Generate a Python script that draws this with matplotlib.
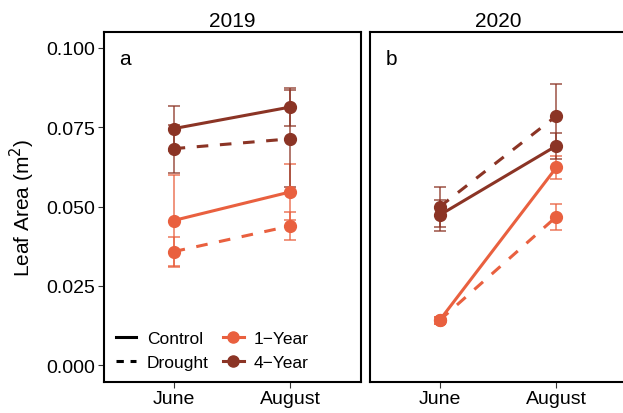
import numpy as np
import matplotlib.pyplot as plt
from matplotlib.lines import Line2D

plt.rcParams['font.family'] = ['Liberation Sans', 'DejaVu Sans']

months = ["June", "August"]
years = ["2019", "2020"]
panel_tags = ["a", "b"]

# mean leaf area and standard error, per year / stand age / treatment
ctrl_1yr = {"2019": [0.0456, 0.0546], "2020": [0.0142, 0.0623]}
ctrl_1yr_se = {"2019": [0.0144, 0.0087], "2020": [0.0010, 0.0036]}
drt_1yr = {"2019": [0.0358, 0.0439], "2020": [0.0142, 0.0468]}
drt_1yr_se = {"2019": [0.0047, 0.0043], "2020": [0.0010, 0.0041]}
ctrl_4yr = {"2019": [0.0745, 0.0813], "2020": [0.0473, 0.0691]}
ctrl_4yr_se = {"2019": [0.0071, 0.0060], "2020": [0.0049, 0.0040]}
drt_4yr = {"2019": [0.0682, 0.0713], "2020": [0.0499, 0.0785]}
drt_4yr_se = {"2019": [0.0075, 0.0152], "2020": [0.0062, 0.0100]}

c1 = "#E9603F"
c4 = "#8B3425"
dash = (3.8, 3.8)

fig = plt.figure(figsize=(6.23, 4.14), dpi=100)
W, H = 623, 414
top, bot = 33, 383
axes = [fig.add_axes([103.5 / W, (H - bot) / H, 257 / W, (bot - top) / H]),
        fig.add_axes([369.5 / W, (H - bot) / H, 257 / W, (bot - top) / H])]

x = np.arange(1, len(months) + 1)

for ax, yr, tag in zip(axes, years, panel_tags):
    series = [
        (ctrl_1yr[yr], ctrl_1yr_se[yr], c1, "-"),
        (drt_1yr[yr], drt_1yr_se[yr], c1, "--"),
        (ctrl_4yr[yr], ctrl_4yr_se[yr], c4, "-"),
        (drt_4yr[yr], drt_4yr_se[yr], c4, "--"),
    ]
    for vals, se, col, ls in series:
        ax.errorbar(x, vals, yerr=se, fmt="none", ecolor=col, elinewidth=1.1,
                    capsize=4.3, capthick=1.1, alpha=0.85, zorder=2)
        line, = ax.plot(x, vals, color=col, lw=2.2, ls=ls, marker="o",
                        markersize=8.5, zorder=3)
        if ls == "--":
            line.set_dashes(dash)
    ax.set_xlim(0.4, 2.6)
    ax.set_ylim(-0.0052, 0.1049)
    ax.set_xticks(x)
    ax.set_xticklabels(months, fontsize=14)
    ax.set_title(yr, fontsize=15, pad=4)
    ax.text(0.085, 0.925, tag, transform=ax.transAxes, fontsize=15,
            ha="center", va="center")
    for s in ax.spines.values():
        s.set_linewidth(1.5)
    ax.tick_params(axis="x", length=4, width=0.8, color="#333333", pad=2)

axes[0].set_yticks([0.0, 0.025, 0.05, 0.075, 0.1])
axes[0].set_yticklabels(["0.000", "0.025", "0.050", "0.075", "0.100"], fontsize=14)
axes[0].tick_params(axis="y", length=4, width=0.8, color="#333333", pad=2)
axes[0].set_ylabel("Leaf Area (m$^2$)", fontsize=15, labelpad=7)
axes[1].set_yticks([])

handles = [
    Line2D([], [], color="black", lw=2.2, ls="-"),
    Line2D([], [], color="black", lw=2.2, dashes=(2.4, 2.2)),
    Line2D([], [], color=c1, lw=2.2, marker="o", markersize=8),
    Line2D([], [], color=c4, lw=2.2, marker="o", markersize=8),
]
labels = ["Control", "Drought", "1\u2212Year", "4\u2212Year"]
axes[0].legend(handles, labels, ncol=2, loc="lower left", frameon=False,
               fontsize=12.5, handlelength=1.2, handletextpad=0.6,
               columnspacing=0.8, labelspacing=0.5,
               bbox_to_anchor=(0.0, 0.0), borderaxespad=0.3)

fig.savefig("out.png", dpi=100)
